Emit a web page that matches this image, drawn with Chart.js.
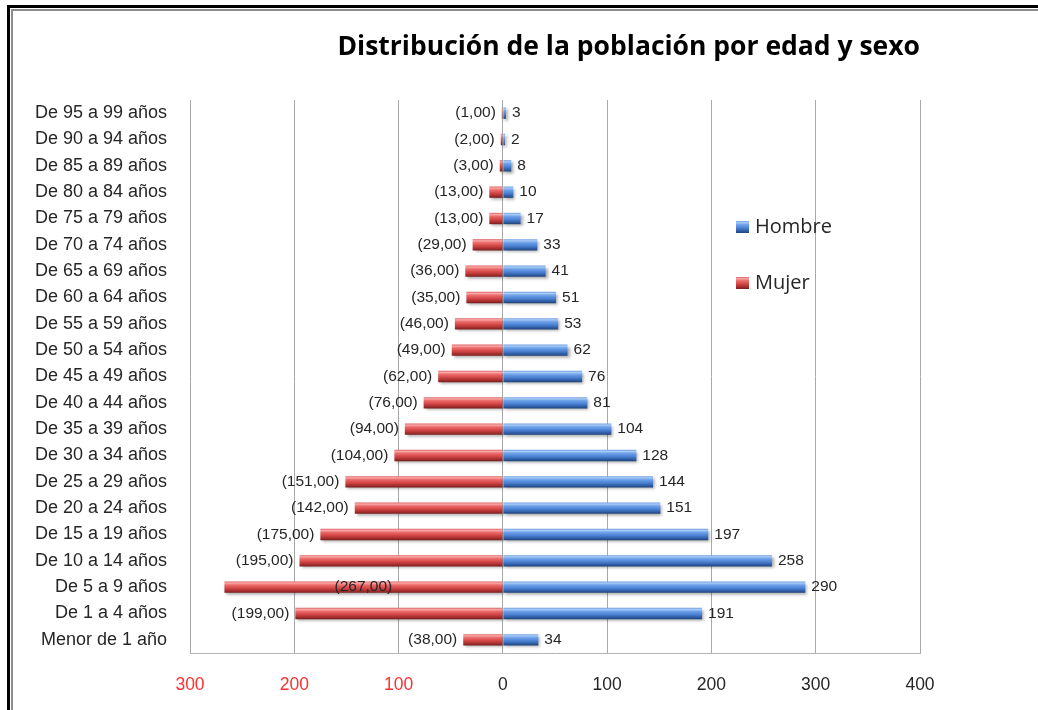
<!DOCTYPE html>
<html lang="es">
<head>
<meta charset="utf-8">
<title>Distribución de la población por edad y sexo</title>
<script src="https://cdn.jsdelivr.net/npm/chart.js@4.4.1/dist/chart.umd.min.js"></script>
<style>
    html, body { margin: 0; padding: 0; background: #fff; overflow: hidden; }
    #pyramid { display: block; }
</style>
</head>
<body>
<canvas id="pyramid" width="1038" height="710"></canvas>

<script>
// Age groups, oldest first (top of the pyramid)
const categories = [
    'De 95 a 99 años', 'De 90 a 94 años', 'De 85 a 89 años', 'De 80 a 84 años',
    'De 75 a 79 años', 'De 70 a 74 años', 'De 65 a 69 años', 'De 60 a 64 años',
    'De 55 a 59 años', 'De 50 a 54 años', 'De 45 a 49 años', 'De 40 a 44 años',
    'De 35 a 39 años', 'De 30 a 34 años', 'De 25 a 29 años', 'De 20 a 24 años',
    'De 15 a 19 años', 'De 10 a 14 años', 'De 5 a 9 años', 'De 1 a 4 años',
    'Menor de 1 año'
];

const hombres = [3, 2, 8, 10, 17, 33, 41, 51, 53, 62, 76, 81, 104, 128, 144, 151, 197, 258, 290, 191, 34];
const mujeres = [1, 2, 3, 13, 13, 29, 36, 35, 46, 49, 62, 76, 94, 104, 151, 142, 175, 195, 267, 199, 38];

// Value axis ticks (women drawn to the left, so negative)
const xTicks = [-300, -200, -100, 0, 100, 200, 300, 400];

const BAR_PCT = 0.43;
const LABEL_GAP = 6;
const TEXT_FONT = '"Liberation Sans", Arial, sans-serif';

const blueStops = [[0, '#6c9ee4'], [0.14, '#a8caf6'], [0.3, '#70a3ea'], [0.6, '#4a80d2'], [0.85, '#2d5aa0'], [1, '#1e4479']];
const redStops = [[0, '#de5f5f'], [0.14, '#f7a9a9'], [0.3, '#ee6c6c'], [0.6, '#d14444'], [0.85, '#a02c2c'], [1, '#771d1d']];

/**
 * Vertical gradient across one bar, gives the bars their rounded look
 */
function barGradient(context, stops, fallback) {
    const chart = context.chart;
    const yScale = chart.scales.y;
    if (context.type !== 'data' || !chart.chartArea || !yScale) return fallback;
    const band = yScale.height / categories.length * BAR_PCT;
    const cy = yScale.getPixelForValue(context.dataIndex);
    const g = chart.ctx.createLinearGradient(0, cy - band / 2, 0, cy + band / 2);
    stops.forEach(([o, c]) => g.addColorStop(o, c));
    return g;
}

// double frame line along the top and left edge of the sheet
const sheetFrame = {
    id: 'sheetFrame',
    beforeDraw(chart) {
        const ctx = chart.ctx;
        const w = chart.width;
        const h = chart.height;
        ctx.save();
        ctx.fillStyle = '#000';
        ctx.fillRect(7, 5, 3, h - 5);
        ctx.fillRect(7, 5, w - 7, 3);
        ctx.fillStyle = '#8c8c8c';
        ctx.fillRect(11, 9, 2, h - 9);
        ctx.fillRect(11, 9, w - 11, 2);
        ctx.restore();
    }
};

// soft drop shadow under the bars
const barShadow = {
    id: 'barShadow',
    beforeDatasetsDraw(chart) {
        const ctx = chart.ctx;
        ctx.save();
        ctx.shadowColor = 'rgba(0, 0, 0, 0.35)';
        ctx.shadowBlur = 3;
        ctx.shadowOffsetX = 2;
        ctx.shadowOffsetY = 2;
    },
    afterDatasetsDraw(chart) {
        chart.ctx.restore();
    }
};

// value labels at the end of each bar
const valueLabels = {
    id: 'valueLabels',
    afterDatasetsDraw(chart) {
        const ctx = chart.ctx;
        const area = chart.chartArea;
        ctx.save();
        ctx.font = '15.5px ' + TEXT_FONT;
        ctx.fillStyle = '#262626';
        ctx.textBaseline = 'middle';
        chart.data.datasets.forEach((ds, di) => {
            chart.getDatasetMeta(di).data.forEach((bar, i) => {
                const v = ds.data[i];
                if (v < 0) {
                    const text = '(' + Math.abs(v).toFixed(2).replace('.', ',') + ')';
                    const w = ctx.measureText(text).width;
                    if (bar.x - LABEL_GAP - w < area.left) {
                        ctx.textAlign = 'center';
                        ctx.fillText(text, (bar.x + bar.base) / 2, bar.y);
                    } else {
                        ctx.textAlign = 'right';
                        ctx.fillText(text, bar.x - LABEL_GAP, bar.y);
                    }
                } else {
                    ctx.textAlign = 'left';
                    ctx.fillText(String(v), bar.x + LABEL_GAP, bar.y);
                }
            });
        });
        ctx.restore();
    }
};

// legend box sitting inside the plot, right of the bars
const insideLegend = {
    id: 'insideLegend',
    afterDatasetsDraw(chart) {
        const ctx = chart.ctx;
        const items = [
            { label: chart.data.datasets[0].label, stops: blueStops, y: 227 },
            { label: chart.data.datasets[1].label, stops: redStops, y: 283 }
        ];
        ctx.save();
        ctx.font = '20px "Open Sans", sans-serif';
        ctx.textBaseline = 'middle';
        ctx.textAlign = 'left';
        items.forEach(item => {
            const g = ctx.createLinearGradient(0, item.y - 6, 0, item.y + 6);
            item.stops.forEach(([o, c]) => g.addColorStop(o, c));
            ctx.fillStyle = g;
            ctx.fillRect(736, item.y - 6, 13, 12);
            ctx.fillStyle = '#262626';
            ctx.fillText(item.label, 755, item.y);
        });
        ctx.restore();
    }
};

new Chart(document.getElementById('pyramid'), {
    type: 'bar',
    data: {
        labels: categories,
        datasets: [
            {
                label: 'Hombre',
                data: hombres,
                backgroundColor: (c) => barGradient(c, blueStops, '#4a80d2'),
                barPercentage: BAR_PCT,
                categoryPercentage: 1
            },
            {
                label: 'Mujer',
                data: mujeres.map(v => -v),
                backgroundColor: (c) => barGradient(c, redStops, '#d14444'),
                barPercentage: BAR_PCT,
                categoryPercentage: 1
            }
        ]
    },
    options: {
        indexAxis: 'y',
        responsive: false,
        animation: false,
        layout: {
            padding: { left: 0, right: 118, top: 0, bottom: 0 }
        },
        plugins: {
            legend: { display: false },
            tooltip: { enabled: false },
            title: {
                display: true,
                text: 'Distribución de la población por edad y sexo',
                align: 'end',
                color: '#000',
                font: { family: '"Open Sans", sans-serif', size: 26.5, weight: 'bold', lineHeight: 1.2 },
                padding: { top: 31.1, bottom: 37.1 }
            }
        },
        scales: {
            x: {
                stacked: true,
                min: xTicks[0],
                max: xTicks[xTicks.length - 1],
                afterBuildTicks(scale) {
                    scale.ticks = xTicks.map(v => ({ value: v }));
                },
                afterFit(scale) {
                    scale.height = 57;
                },
                grid: { color: '#a8a8a8', lineWidth: 1, drawTicks: false },
                border: { display: true, color: '#b4b4b4' },
                ticks: {
                    padding: 22,
                    font: { family: TEXT_FONT, size: 17.5 },
                    color: (c) => (c.tick && c.tick.value < 0 ? '#ff3030' : '#262626'),
                    callback: (v) => String(Math.abs(v))
                }
            },
            y: {
                stacked: true,
                afterFit(scale) {
                    scale.width = 190;
                },
                grid: { display: false, drawTicks: false },
                border: { display: false },
                ticks: {
                    padding: 23,
                    autoSkip: false,
                    font: { family: TEXT_FONT, size: 18 },
                    color: '#262626'
                }
            }
        }
    },
    plugins: [sheetFrame, barShadow, valueLabels, insideLegend]
});
</script>
</body>
</html>
